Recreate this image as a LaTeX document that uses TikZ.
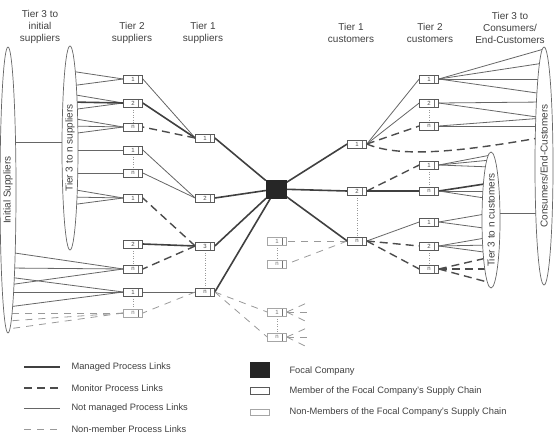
\documentclass[tikz,border=0pt]{standalone}
\usepackage{fontspec}
\setmainfont{Liberation Sans}
\usetikzlibrary{shapes.geometric,backgrounds}

\tikzset{
  memberbox/.style={draw=black!65, fill=white, line width=0.6pt, minimum width=19pt,
    minimum height=8pt, inner sep=0pt, font=\fontsize{6}{6}\selectfont, text=black!70},
  member/.style={memberbox, path picture={
    \draw[black!55, line width=0.5pt] ([xshift=-4pt]path picture bounding box.north east)
      -- ([xshift=-4pt]path picture bounding box.south east);}},
  nonmember/.style={member, draw=black!35, text=black!55},
  focalbox/.style={draw=black!85, fill=black!85, minimum width=20pt, minimum height=18pt, inner sep=0pt},
  tierell/.style={ellipse, draw=black!60, fill=white, line width=0.7pt, inner sep=0pt,
    rotate=90, text=black!75, font=\fontsize{10}{12}\selectfont},
  head/.style={align=center, text=black!75, font=\fontsize{10}{12}\selectfont},
  legend/.style={anchor=west, text=black!75, font=\fontsize{9.3}{11}\selectfont},
  managed/.style={line width=1.6pt, draw=black!75},
  monitor/.style={line width=1.4pt, draw=black!70, dash pattern=on 8pt off 5pt},
  notmanaged/.style={line width=0.8pt, draw=black!60},
  nonmemberlink/.style={line width=0.8pt, draw=black!40, dash pattern=on 7pt off 6pt},
  tierlink/.style={dotted, draw=black!40, line width=0.5pt}
}

\begin{document}
\begin{tikzpicture}[x=1pt,y=-1pt]
\useasboundingbox (0,0) rectangle (556,441);

% column heads
\node[head] (hinit) at (40,27) {Tier 3 to\\initial\\suppliers};
\node[head] (hsup2) at (132,33) {Tier 2\\suppliers};
\node[head] (hsup1) at (203,33) {Tier 1\\suppliers};
\node[head] (hcus1) at (351,33) {Tier 1\\customers};
\node[head] (hcus2) at (430,33) {Tier 2\\customers};
\node[head] (hcus3) at (510,28) {Tier 3 to\\Consumers/\\End-Customers};

% outer tiers
\node[tierell, minimum width=286pt, minimum height=16pt] (initsup) at (8,190) {Initial Suppliers};
\node[tierell, minimum width=204pt, minimum height=16pt] (tnsup) at (70,148) {Tier 3 to n suppliers};
\node[tierell, minimum width=238pt, minimum height=18pt] (consum) at (544,166) {Consumers/End-Customers};
\node[tierell, minimum width=136pt, minimum height=18pt] (tncust) at (491,220) {Tier 3 to n customers};

% tier 2 suppliers
\node[member] (s2a) at (133,79) {1};
\node[member] (s2b) at (133,103) {2};
\node[member] (s2c) at (133,127) {n};
\node[member] (s2d) at (133,150) {1};
\node[member] (s2e) at (133,173) {n};
\node[member] (s2f) at (133,198) {1};
\node[member] (s2g) at (133,244) {2};
\node[member] (s2h) at (133,269) {n};
\node[member] (s2i) at (133,292) {1};
\node[nonmember] (s2j) at (133,313) {n};

% tier 1 suppliers
\node[member] (s1a) at (205,138) {1};
\node[member] (s1b) at (205,198) {2};
\node[member] (s1c) at (205,246) {3};
\node[member] (s1d) at (205,292) {n};

\node[focalbox] (focal) at (276,189) {};

% non-members
\node[nonmember] (na) at (277,241) {1};
\node[nonmember] (nb) at (277,264) {n};
\node[nonmember] (nc) at (277,312) {1};
\node[nonmember] (nd) at (277,337) {n};

% tier 1 customers
\node[member] (c1a) at (357,144) {1};
\node[member] (c1b) at (357,191) {2};
\node[member] (c1c) at (357,241) {n};

% tier 2 customers
\node[member] (c2a) at (429,79) {1};
\node[member] (c2b) at (429,103) {2};
\node[member] (c2c) at (429,126) {n};
\node[member] (c2d) at (429,165) {1};
\node[member] (c2e) at (429,191) {n};
\node[member] (c2f) at (429,222) {1};
\node[member] (c2g) at (429,246) {2};
\node[member] (c2h) at (429,269) {n};

\coordinate (ncfan) at (309,312);
\coordinate (ndfan) at (309,337);

\begin{scope}[on background layer]
  % supplier side
  \draw[notmanaged] (initsup.center |- 0,142) -- (tnsup.center |- 0,142);
  \foreach \y in {71,86} \draw[notmanaged] (tnsup.center |- 0,\y) -- (s2a.west);
  \foreach \y in {94,110} \draw[notmanaged] (tnsup.center |- 0,\y) -- (s2b.west);
  \draw[managed] (tnsup.center |- 0,102) -- (s2b.west);
  \foreach \y in {118,126,134} \draw[notmanaged] (tnsup.center |- 0,\y) -- (s2c.west);
  \draw[notmanaged] (tnsup.center |- 0,150) -- (s2d.west);
  \draw[notmanaged] (tnsup.center |- 0,173) -- (s2e.west);
  \foreach \y in {189,197,205} \draw[notmanaged] (tnsup.center |- 0,\y) -- (s2f.west);
  \foreach \y in {252,268,285} \draw[notmanaged] (initsup.center |- 0,\y) -- (s2h.west);
  \foreach \y in {277,292,307} \draw[notmanaged] (initsup.center |- 0,\y) -- (s2i.west);
  \foreach \y in {313,321,329} \draw[nonmemberlink] (s2j.west) -- (initsup.center |- 0,\y);

  \draw[tierlink] (s2b) -- (s2c);
  \draw[tierlink] (s2d) -- (s2e);
  \draw[tierlink] (s2g) -- (s2h);
  \draw[tierlink] (s2i) -- (s2j);
  \draw[tierlink] (s1c) -- (s1d);

  \draw[notmanaged] (s2a.east) -- (s1a.west);
  \draw[managed] (s2b.east) -- (s1a.west);
  \draw[monitor] (s1a.west) -- (s2c.east);
  \draw[notmanaged] (s2d.east) -- (s1b.west);
  \draw[notmanaged] (s2e.east) -- (s1b.west);
  \draw[monitor] (s1c.west) -- (s2f.east);
  \draw[managed] (s2g.east) -- (s1c.west);
  \draw[monitor] (s1c.west) -- (s2h.east);
  \draw[notmanaged] (s2i.east) -- (s1d.west);
  \draw[nonmemberlink] (s1d.west) -- (s2j.east);

  \draw[managed] (s1a.east) -- (focal);
  \draw[managed] (s1b.east) -- (focal);
  \draw[managed] (s1c.east) -- (focal);
  \draw[managed] (s1d.east) -- (focal);

  % non-members
  \draw[tierlink] (na) -- (nb);
  \draw[tierlink] (nc) -- (nd);
  \draw[nonmemberlink] (c1c.west) -- (na.east);
  \draw[nonmemberlink] (c1c.west) -- (nb.east);
  \draw[nonmemberlink] (s1d.east) -- (nc.west);
  \draw[nonmemberlink] (s1d.east) -- (nd.west);
  \foreach \dy in {-10,0,11} {
    \draw[nonmemberlink] (nc.east) -- ([yshift=-\dy pt]ncfan);
    \draw[nonmemberlink] (nd.east) -- ([yshift=-\dy pt]ndfan);
  }

  % customer side
  \draw[managed] (focal) -- (c1a.west);
  \draw[managed] (focal) -- (c1b.west);
  \draw[managed] (focal) -- (c1c.west);

  \draw[tierlink] (c1b) -- (c1c);
  \draw[tierlink] (c2b) -- (c2c);
  \draw[tierlink] (c2d) -- (c2e);
  \draw[tierlink] (c2g) -- (c2h);

  \draw[notmanaged] (c1a.east) -- (c2a.west);
  \draw[notmanaged] (c1a.east) -- (c2b.west);
  \draw[monitor] (c1a.east) -- (c2c.west);
  \draw[monitor] (c1a.east) .. controls (400,158) and (460,152) .. (consum.center |- 0,137);
  \draw[monitor] (c1b.east) -- (c2d.west);
  \draw[managed] (c1b.east) -- (c2e.west);
  \draw[notmanaged] (c1c.east) -- (c2f.west);
  \draw[monitor] (c1c.east) -- (c2g.west);
  \draw[monitor] (c1c.east) -- (c2h.west);

  \foreach \y in {49,63,79,94} \draw[notmanaged] (c2a.east) -- (consum.center |- 0,\y);
  \foreach \y in {102,118} \draw[notmanaged] (c2b.east) -- (consum.center |- 0,\y);
  \foreach \y in {118,126} \draw[notmanaged] (c2c.east) -- (consum.center |- 0,\y);
  \draw[notmanaged] (tncust.center |- 0,213) -- (consum.center |- 0,213);
  \foreach \y in {155,160,167} \draw[notmanaged] (c2d.east) -- (tncust.center |- 0,\y);
  \draw[managed] (c2e.east) -- (tncust.center |- 0,183);
  \foreach \y in {191,199} \draw[notmanaged] (c2e.east) -- (tncust.center |- 0,\y);
  \foreach \y in {213,229} \draw[notmanaged] (c2f.east) -- (tncust.center |- 0,\y);
  \foreach \y in {237,245,253} \draw[notmanaged] (c2g.east) -- (tncust.center |- 0,\y);
  \foreach \y in {257,269,283} \draw[monitor] (c2h.east) -- (tncust.center |- 0,\y);
\end{scope}

% legend
\node[legend] (lgman) at (68,367) {Managed Process Links};
\node[legend] (lgmon) at (68,388) {Monitor Process Links};
\node[legend] (lgnot) at (68,408) {Not managed Process Links};
\node[legend] (lgnon) at (68,429) {Non-member Process Links};
\draw[managed] ([xshift=-44pt]lgman.west) -- ([xshift=-8pt]lgman.west);
\draw[monitor] ([xshift=-44pt]lgmon.west) -- ([xshift=-8pt]lgmon.west);
\draw[notmanaged] ([xshift=-44pt]lgnot.west) -- ([xshift=-8pt]lgnot.west);
\draw[nonmemberlink] ([xshift=-44pt]lgnon.west) -- ([xshift=-8pt]lgnon.west);

\node[focalbox, minimum width=19pt, minimum height=15pt] (lgfocal) at (259.5,369.5) {};
\node[memberbox, minimum height=7pt] (lgmem) at (259.5,390.5) {};
\node[memberbox, draw=black!35, minimum height=6pt] (lgnonmem) at (259.5,412) {};
\node[legend] (lgfocaltxt) at (286,371) {Focal Company};
\node[legend] (lgmemtxt) at (286,391) {Member of the Focal Company's Supply Chain};
\node[legend] (lgnonmemtxt) at (286,412) {Non-Members of the Focal Company's Supply Chain};
\end{tikzpicture}
\end{document}
